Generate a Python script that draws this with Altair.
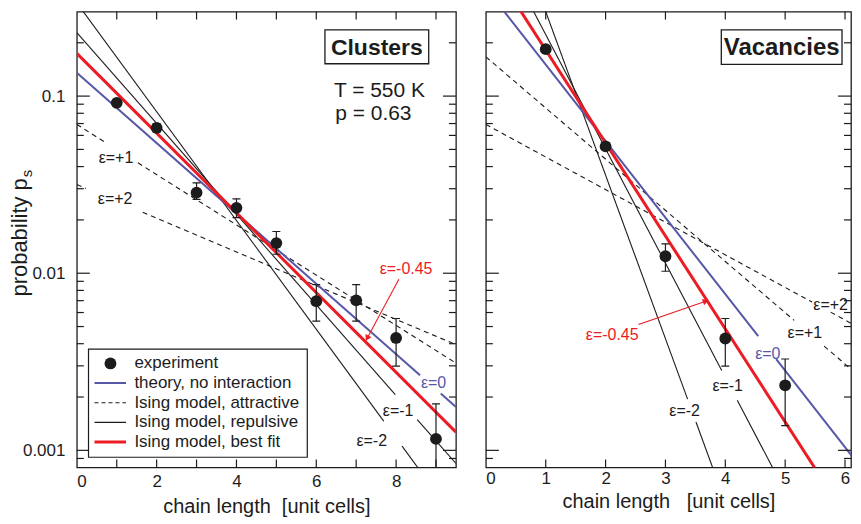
import altair as alt
import pandas as pd

FONT = "Liberation Sans"
INK = "#1c1c1c"
BLUE = "#5757a8"
RED = "#ec1c24"

# ---------------- data ----------------
y_major = [0.001, 0.01, 0.1]
y_minor = [0.0009, 0.002, 0.003, 0.004, 0.005, 0.006, 0.007, 0.008, 0.009,
           0.02, 0.03, 0.04, 0.05, 0.06, 0.07, 0.08, 0.09, 0.2]
y_labels = [0.001, 0.01, 0.1]

cl_x_ticks = [1, 2, 3, 4, 5, 6, 7, 8, 9]
cl_x_labels = [0, 2, 4, 6, 8]
vac_x_ticks = [1, 2, 3, 4, 5, 6]
vac_x_labels = [0, 1, 2, 3, 4, 5, 6]

# Clusters: experiment
cl_s = [1, 2, 3, 4, 5, 6, 7, 8, 9]
cl_p = [0.0916, 0.0662, 0.0285, 0.0234, 0.0148, 0.00695, 0.00702, 0.00431, 0.00116]
cl_lo = [0.0880, 0.0625, 0.0261, 0.0206, 0.0128, 0.00536, 0.00536, 0.00299, 0.00060]
cl_hi = [0.0950, 0.0700, 0.0324, 0.0263, 0.0172, 0.00863, 0.00863, 0.00555, 0.00183]

# Vacancies: experiment
vac_s = [1, 2, 3, 4, 5]
vac_p = [0.184, 0.0520, 0.01247, 0.00428, 0.00233]
vac_lo = [0.177, 0.0500, 0.01026, 0.00299, 0.00138]
vac_hi = [0.191, 0.0545, 0.01466, 0.00555, 0.00328]

# Model curves: list of segments, each segment = [(x, p), (x, p)]
cl_eps0 = [[(0, 0.1355), (8.6, 0.002655)], [(9.12, 0.002094), (9.5, 0.001758)]]
cl_best = [[(0, 0.1742), (9.5, 0.001268)]]
cl_rep1 = [[(0, 0.228), (7.98, 0.002065)], [(8.53, 0.001493), (9.5, 0.000843)]]
cl_rep2 = [[(0, 0.336), (7.69, 0.001462)], [(8.15, 0.001056), (9.0, 0.000579)]]
cl_att1 = [[(0, 0.0692), (0.73, 0.0545)], [(1.53, 0.0420), (9.5, 0.00311)]]
cl_att2 = [[(0, 0.0317), (0.23, 0.03013)], [(1.65, 0.02208), (9.5, 0.00395)]]

vac_eps0 = [[(0, 0.407), (4.55, 0.00441)], [(4.85, 0.00327), (6.4, 0.000700)]]
vac_best = [[(0, 0.610), (6.0, 0.000432)]]
vac_rep1 = [[(0, 0.982), (3.94, 0.002825)], [(4.2, 0.00192), (5.0, 0.000585)]]
vac_rep2 = [[(0, 2.51), (3.37, 0.001945)], [(3.51, 0.001445), (4.0, 0.00051)]]
vac_att1 = [[(0, 0.1667), (5.15, 0.00542)], [(5.65, 0.00388), (6.4, 0.002355)]]
vac_att2 = [[(0, 0.0692), (5.45, 0.00687)], [(5.76, 0.00603), (6.4, 0.00459)]]

# curve labels: text, x, y, colour
cl_eps_text = ["ε=+1", "ε=+2", "ε=0", "ε=-1", "ε=-2", "ε=-0.45"]
cl_eps_x = [0.98, 0.96, 8.94, 8.05, 7.39, 8.25]
cl_eps_y = [0.0448, 0.0261, 0.0024, 0.00166, 0.001125, 0.0105]
cl_eps_c = [INK, INK, BLUE, INK, INK, RED]

vac_eps_text = ["ε=-0.45", "ε=-2", "ε=-1", "ε=0", "ε=+1", "ε=+2"]
vac_eps_x = [2.11, 3.32, 4.04, 4.71, 5.33, 5.76]
vac_eps_y = [0.00449, 0.00166, 0.0023, 0.00348, 0.0046, 0.00665]
vac_eps_c = [RED, INK, INK, BLUE, INK, INK]

# arrows pointing at best-fit line: (x_start, y_start, x_tip, y_tip)
cl_arrow = [8.07, 0.00925, 7.275, 0.0043]
vac_arrow = [2.55, 0.00513, 3.673, 0.00695]

legend_labels = ["experiment", "theory, no interaction", "Ising model, attractive",
                 "Ising model, repulsive", "Ising model, best fit"]

H = 457


def seg_df(segments):
    rows = []
    for k, seg in enumerate(segments):
        for x, p in seg:
            rows.append({"x": x, "p": p, "seg": k})
    return pd.DataFrame(rows)


def one():
    return pd.DataFrame({"a": [0]})


def panel(xmax, W, s, p, lo, hi, curves, eps, arrow, arrow_angle, box, info,
          legend, x_ticks, x_labels, x_title, title_y, label_pad, y_on):
    xscale = alt.Scale(domain=[0, xmax], nice=False, zero=False)
    yscale = alt.Scale(type="log", domain=[0.0008, 0.3], nice=False)
    xaxis = alt.Axis(values=x_labels, ticks=False, tickSize=0, domain=False, grid=False,
                     labelPadding=label_pad, labelFontSize=17, labelFont=FONT,
                     labelColor=INK, format="d", title=x_title, titleFontSize=20,
                     titleFont=FONT, titleFontWeight="normal", titleColor=INK,
                     titleY=title_y, titleBaseline="alphabetic")
    if y_on:
        yaxis = alt.Axis(values=y_labels, ticks=False, tickSize=0, domain=False,
                         grid=False, labelPadding=12, labelFontSize=17, labelFont=FONT,
                         labelColor=INK, format="~g", title=None)
    else:
        yaxis = None

    def X(f):
        return alt.X(f, type="quantitative", scale=xscale, axis=xaxis)

    def Y(f):
        return alt.Y(f, type="quantitative", scale=yscale, axis=yaxis)

    layers = []
    # curves
    for segs, color, width, dash in curves:
        df = seg_df(segs)
        mk = dict(clip=True, color=color, strokeWidth=width)
        if dash:
            mk["strokeDash"] = dash
        layers.append(alt.Chart(df).mark_line(**mk).encode(
            x=X("x"), y=Y("p"), detail="seg:N"))

    # frame ticks (inward)
    for vals, ln in [(y_major, 13), (y_minor, 7)]:
        d = pd.DataFrame({"v": vals})
        layers.append(alt.Chart(d).mark_rule(color=INK, strokeWidth=1.2).encode(
            y=Y("v"), x=alt.value(0), x2=alt.value(ln)))
        layers.append(alt.Chart(d).mark_rule(color=INK, strokeWidth=1.2).encode(
            y=Y("v"), x=alt.value(W - ln), x2=alt.value(W)))
    dx = pd.DataFrame({"v": x_ticks})
    layers.append(alt.Chart(dx).mark_rule(color=INK, strokeWidth=1.2).encode(
        x=X("v"), y=alt.value(H - 8), y2=alt.value(H)))
    layers.append(alt.Chart(dx).mark_rule(color=INK, strokeWidth=1.2).encode(
        x=X("v"), y=alt.value(0), y2=alt.value(8)))

    # experiment
    pts = pd.DataFrame({"s": s, "p": p, "lo": lo, "hi": hi})
    layers.append(alt.Chart(pts).mark_rule(clip=True, color=INK, strokeWidth=1.2).encode(
        x=X("s"), y=Y("lo"), y2="hi"))
    for f in ["lo", "hi"]:
        layers.append(alt.Chart(pts).mark_rule(clip=True, color=INK, strokeWidth=1.2,
                                               xOffset=-4, x2Offset=4).encode(
            x=X("s"), x2="s", y=Y(f)))
    layers.append(alt.Chart(pts).mark_circle(size=140, color=INK, opacity=1).encode(
        x=X("s"), y=Y("p")))

    # epsilon labels
    t, ex, ey, ec = eps
    ed = pd.DataFrame({"t": t, "x": ex, "y": ey, "c": ec})
    layers.append(alt.Chart(ed).mark_text(font=FONT, fontSize=16).encode(
        x=X("x"), y=Y("y"), text="t:N", color=alt.Color("c:N", scale=None)))

    # arrow
    ad = pd.DataFrame({"x": [arrow[0]], "y": [arrow[1]], "x2": [arrow[2]], "y2": [arrow[3]]})
    layers.append(alt.Chart(ad).mark_rule(color=RED, strokeWidth=1.1).encode(
        x=X("x"), y=Y("y"), x2="x2", y2="y2"))
    layers.append(alt.Chart(ad).mark_point(shape="triangle-up", filled=True, color=RED,
                                           size=45, opacity=1, angle=arrow_angle).encode(
        x=X("x2"), y=Y("y2")))

    # title box
    bx0, by0, bx1, by1, btxt, bsize = box
    layers.append(alt.Chart(one()).mark_rect(fill="white", stroke=INK, strokeWidth=1.3).encode(
        x=alt.value(bx0), x2=alt.value(bx1), y=alt.value(by0), y2=alt.value(by1)))
    layers.append(alt.Chart(pd.DataFrame({"t": [btxt]})).mark_text(
        font=FONT, fontSize=bsize, fontWeight="bold", color=INK, align="center",
        baseline="middle").encode(x=alt.value((bx0 + bx1) / 2),
                                  y=alt.value((by0 + by1) / 2 + 1), text="t:N"))

    for txt, tx, ty, tsize in info:
        layers.append(alt.Chart(pd.DataFrame({"t": [txt]})).mark_text(
            font=FONT, fontSize=tsize, color=INK, align="left", baseline="middle").encode(
            x=alt.value(tx), y=alt.value(ty), text="t:N"))

    if legend:
        lx0, ly0, lx1, ly1 = 11.7, 338.3, 231, 446.7
        row0, step = 352.7, 19.7
        layers.append(alt.Chart(one()).mark_rect(fill="white", stroke=INK, strokeWidth=1.2).encode(
            x=alt.value(lx0), x2=alt.value(lx1), y=alt.value(ly0), y2=alt.value(ly1)))
        styles = [None, (BLUE, 2, None), (INK, 1.1, [4, 3]), (INK, 1.1, None), (RED, 3, None)]
        for i, lab in enumerate(legend_labels):
            yy = row0 + i * step
            stl = styles[i]
            if stl is None:
                layers.append(alt.Chart(one()).mark_circle(size=140, color=INK, opacity=1).encode(
                    x=alt.value(33.7), y=alt.value(yy)))
            else:
                mk = dict(color=stl[0], strokeWidth=stl[1])
                if stl[2]:
                    mk["strokeDash"] = stl[2]
                layers.append(alt.Chart(one()).mark_rule(**mk).encode(
                    x=alt.value(17.7), x2=alt.value(49.3), y=alt.value(yy)))
            layers.append(alt.Chart(pd.DataFrame({"t": [lab]})).mark_text(
                font=FONT, fontSize=17, color=INK, align="left", baseline="middle").encode(
                x=alt.value(57.7), y=alt.value(yy), text="t:N"))

    if y_on:
        layers.append(alt.Chart(pd.DataFrame({"t": ["probability p"]})).mark_text(
            font=FONT, fontSize=22, color=INK, angle=270, align="right",
            baseline="middle").encode(x=alt.value(-57), y=alt.value(167), text="t:N"))
        layers.append(alt.Chart(pd.DataFrame({"t": ["s"]})).mark_text(
            font=FONT, fontSize=15, color=INK, angle=270, align="left",
            baseline="middle").encode(x=alt.value(-50), y=alt.value(166), text="t:N"))

    return alt.layer(*layers).properties(width=W, height=H)


cl_curves = [
    (cl_att1, INK, 1.1, [5, 4]), (cl_att2, INK, 1.1, [5, 4]),
    (cl_rep1, INK, 1.1, None), (cl_rep2, INK, 1.1, None),
    (cl_eps0, BLUE, 2, None), (cl_best, RED, 3, None),
]
vac_curves = [
    (vac_att1, INK, 1.1, [5, 4]), (vac_att2, INK, 1.1, [5, 4]),
    (vac_rep1, INK, 1.1, None), (vac_rep2, INK, 1.1, None),
    (vac_eps0, BLUE, 2, None), (vac_best, RED, 3, None),
]

left = panel(9.5, 380, cl_s, cl_p, cl_lo, cl_hi, cl_curves,
             (cl_eps_text, cl_eps_x, cl_eps_y, cl_eps_c), cl_arrow, 208,
             (248.7, 18.3, 352.7, 52.3, "Clusters", 23),
             [("T = 550 K", 257.7, 80, 21), ("p = 0.63", 259, 103, 21)],
             True, cl_x_ticks, cl_x_labels,
             "chain length\u00a0\u00a0[unit cells]", 45, 6, True)

right = panel(6.1, 366, vac_s, vac_p, vac_lo, vac_hi, vac_curves,
              (vac_eps_text, vac_eps_x, vac_eps_y, vac_eps_c), vac_arrow, 71,
              (236, 18.3, 357, 53, "Vacancies", 24),
              [], False, vac_x_ticks, vac_x_labels,
              "chain length\u00a0\u00a0\u00a0[unit cells]", 40, 3, False)

chart = alt.hconcat(left, right, spacing=26).properties(
    padding={"left": 0, "top": 1, "right": 0, "bottom": 0}
).configure_view(stroke=INK, strokeWidth=1.3)

chart.save("out.html", embed_options={"renderer": "svg", "actions": False})
